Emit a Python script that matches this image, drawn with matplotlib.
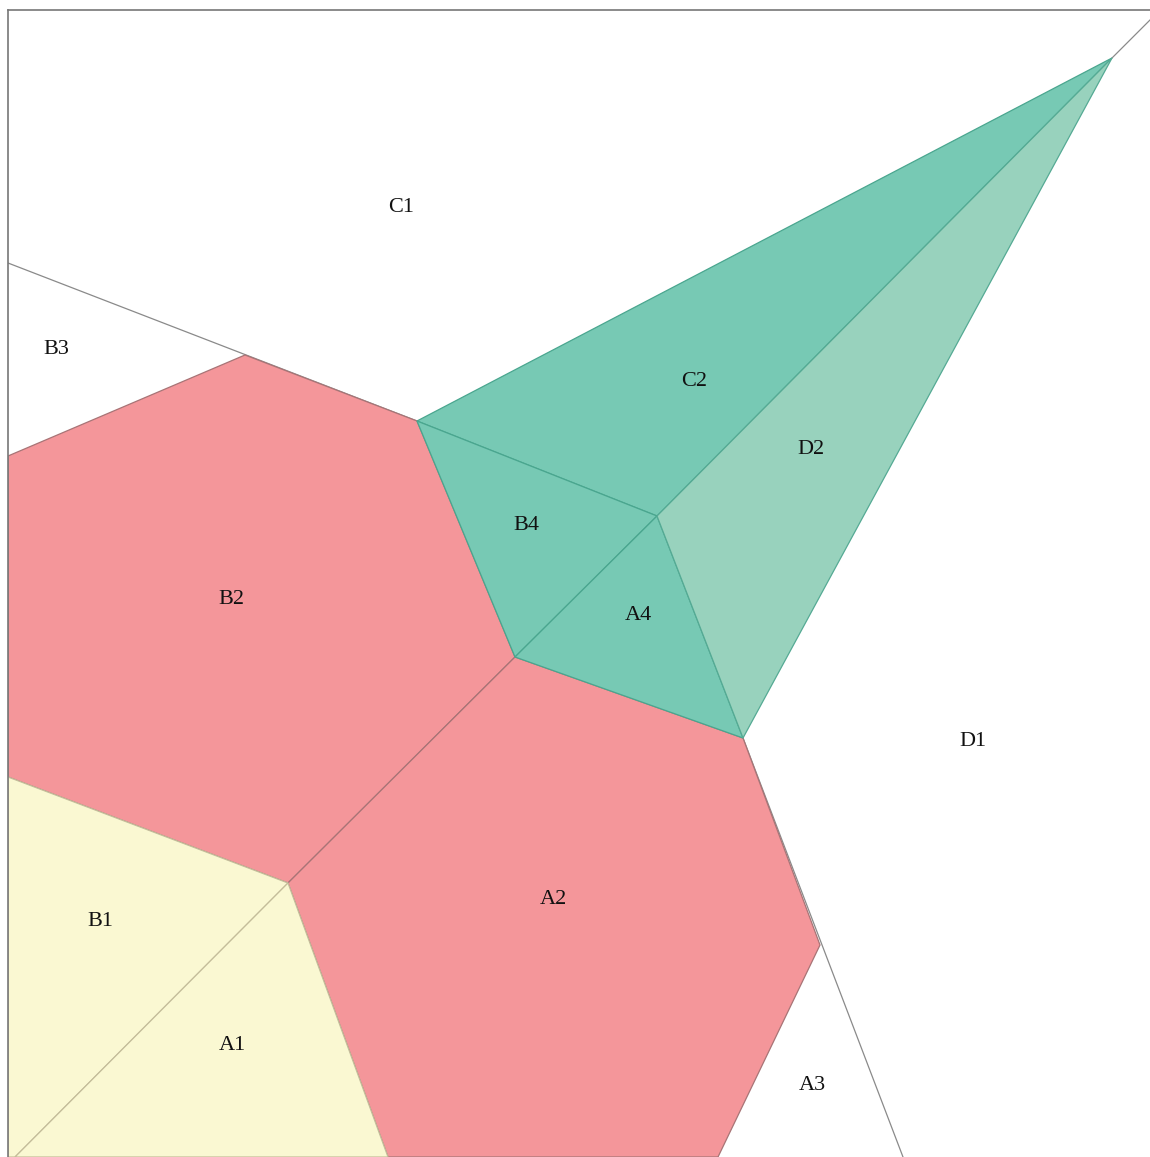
import matplotlib
matplotlib.use("Agg")
from matplotlib import pyplot as plt
from matplotlib.patches import Polygon

# Vertices of the cell diagram (picture coordinates, y grows downward)
pts = {
    "apex": (1112, 58),
    "c": (417, 421),
    "m": (657, 516),
    "a": (515, 657),
    "d": (743, 738),
    "b2l": (8, 456),
    "b2t": (245, 355),
    "b2b": (8, 777),
    "ab": (288, 883),
    "a2r": (820, 945),
    "a2br": (718, 1157),
    "a2bl": (388, 1157),
    "bl": (8, 1157),
    "diag": (15, 1157),
}

# Filled cells: name -> vertex keys
cells = {
    "B2": ["b2l", "b2t", "c", "a", "ab", "b2b"],
    "A2": ["a", "d", "a2r", "a2br", "a2bl", "ab"],
    "B1": ["b2b", "ab", "diag", "bl"],
    "A1": ["ab", "a2bl", "diag"],
    "C2": ["c", "apex", "m"],
    "B4": ["c", "m", "a"],
    "A4": ["m", "d", "a"],
    "D2": ["m", "apex", "d"],
}
cell_colors = {
    "B2": "#f4969a", "A2": "#f4969a",
    "B1": "#faf8d2", "A1": "#faf8d2",
    "C2": "#77c9b4", "B4": "#77c9b4", "A4": "#77c9b4",
    "D2": "#98d2bd",
}
edge_colors = {
    "B2": "#a87476", "A2": "#a87476",
    "B1": "#c4bd9a", "A1": "#c4bd9a",
    "C2": "#4aa68f", "B4": "#4aa68f", "A4": "#4aa68f",
    "D2": "#55aa94",
}

# Boundary lines of white cells
lines = [
    [(8, 263), (417, 421)],
    [(743, 738), (903, 1157)],
    [(1112, 58), (1160, 10)],
]

labels = ["C1", "B3", "C2", "D2", "B4", "B2", "A4", "D1", "B1", "A2", "A1", "A3"]
label_x = [401, 56, 694, 811, 526, 231, 638, 973, 100, 553, 232, 812]
label_y = [208, 350, 381, 449, 525, 600, 616, 741, 921, 900, 1046, 1085]

fig = plt.figure(figsize=(11.5, 11.57), dpi=100)
ax = fig.add_axes([8 / 1150, 0, 1142 / 1150, 1147 / 1157])
ax.set_xlim(8, 1150)
ax.set_ylim(1157, 10)

for (x0, y0), (x1, y1) in lines:
    ax.plot([x0, x1], [y0, y1], color="#8a8a8a", lw=0.9, zorder=1)

for name, keys in cells.items():
    poly = Polygon([pts[k] for k in keys], closed=True,
                   facecolor=cell_colors[name], edgecolor=edge_colors[name],
                   lw=0.9, zorder=2)
    ax.add_patch(poly)

for lab, x, y in zip(labels, label_x, label_y):
    ax.text(x, y, lab, ha="center", va="center", fontsize=16,
            family="Liberation Serif", color="#111111", zorder=3)

ax.set_xticks([])
ax.set_yticks([])
for side in ["right", "bottom"]:
    ax.spines[side].set_visible(False)
for side in ["left", "top"]:
    ax.spines[side].set_color("#777777")
    ax.spines[side].set_linewidth(1.2)

fig.savefig("out.png", dpi=100)
